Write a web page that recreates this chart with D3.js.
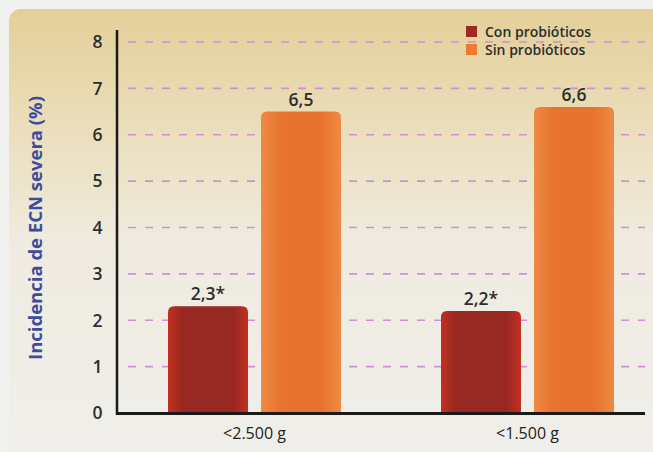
<!DOCTYPE html>
<html>
<head>
<meta charset="utf-8">
<script src="https://cdn.jsdelivr.net/npm/d3@7"></script>
<style>
  body { margin: 0; background: #f1f1ef; }
  svg { display: block; font-family: "Open Sans", sans-serif; }
</style>
</head>
<body>
<div id="chart"></div>
<script>
const width = 653;
const height = 452;

// data
const groups = ["<2.500 g", "<1.500 g"];
const series = ["Con probióticos", "Sin probióticos"];
const conValues = [2.3, 2.2];
const sinValues = [6.5, 6.6];
const valueLabels = [["2,3*", "6,5"], ["2,2*", "6,6"]];
const yTicks = [0, 1, 2, 3, 4, 5, 6, 7, 8];

const rows = groups.map((g, i) => ({
  group: g,
  bars: [
    { key: series[0], value: conValues[i], label: valueLabels[i][0] },
    { key: series[1], value: sinValues[i], label: valueLabels[i][1] },
  ],
}));

const svg = d3
  .select("#chart")
  .append("svg")
  .attr("width", width)
  .attr("height", height);

const defs = svg.append("defs");

// background panel gradient
const bg = defs.append("linearGradient").attr("id", "bg").attr("x1", 0).attr("y1", 0).attr("x2", 0).attr("y2", 1);
bg.append("stop").attr("offset", "0%").attr("stop-color", "#e3cf98");
bg.append("stop").attr("offset", "22%").attr("stop-color", "#eadcb6");
bg.append("stop").attr("offset", "50%").attr("stop-color", "#efebe0");
bg.append("stop").attr("offset", "100%").attr("stop-color", "#efefec");

const gCon = defs.append("linearGradient").attr("id", "gCon");
gCon.append("stop").attr("offset", "0%").attr("stop-color", "#c3301f");
gCon.append("stop").attr("offset", "18%").attr("stop-color", "#982822");
gCon.append("stop").attr("offset", "82%").attr("stop-color", "#982822");
gCon.append("stop").attr("offset", "100%").attr("stop-color", "#c3301f");

const gSin = defs.append("linearGradient").attr("id", "gSin");
gSin.append("stop").attr("offset", "0%").attr("stop-color", "#ee8a44");
gSin.append("stop").attr("offset", "25%").attr("stop-color", "#e8732f");
gSin.append("stop").attr("offset", "75%").attr("stop-color", "#e8732f");
gSin.append("stop").attr("offset", "100%").attr("stop-color", "#ee8a44");

const fills = { [series[0]]: "url(#gCon)", [series[1]]: "url(#gSin)" };
const legendColors = { [series[0]]: "#9c2a22", [series[1]]: "#ec7a33" };

svg
  .append("rect")
  .attr("x", 9)
  .attr("y", 9)
  .attr("width", 670)
  .attr("height", 470)
  .attr("rx", 12)
  .attr("fill", "url(#bg)");

const axisLeft = 117;
const axisRight = 645;

const y = d3.scaleLinear().domain([0, 8]).range([413, 42]);

const x0 = d3.scaleBand().domain(groups).range([118, 664]).padding(0);
const x1 = d3
  .scaleBand()
  .domain(series)
  .range([x0.bandwidth() / 2 - 86.5, x0.bandwidth() / 2 + 86.5])
  .paddingInner(0.14)
  .paddingOuter(0);

// dashed gridlines
svg
  .append("g")
  .selectAll("line")
  .data(yTicks.filter((d) => d > 0))
  .join("line")
  .attr("x1", 128)
  .attr("x2", axisRight)
  .attr("y1", (d) => y(d))
  .attr("y2", (d) => y(d))
  .attr("stroke", "#d08fd8")
  .attr("stroke-width", 1.6)
  .attr("stroke-dasharray", "8,9");

// bars
const groupSel = svg
  .append("g")
  .selectAll("g")
  .data(rows)
  .join("g")
  .attr("transform", (d) => `translate(${x0(d.group)},0)`);

groupSel
  .selectAll("path")
  .data((d) => d.bars)
  .join("path")
  .attr("d", (d) => {
    const bx = x1(d.key);
    const bw = x1.bandwidth();
    const top = y(d.value);
    const bottom = y(0);
    const r = 6;
    return `M${bx},${bottom} L${bx},${top + r} Q${bx},${top} ${bx + r},${top} L${bx + bw - r},${top} Q${bx + bw},${top} ${bx + bw},${top + r} L${bx + bw},${bottom} Z`;
  })
  .attr("fill", (d) => fills[d.key]);

groupSel
  .selectAll("text")
  .data((d) => d.bars)
  .join("text")
  .attr("x", (d) => x1(d.key) + x1.bandwidth() / 2)
  .attr("y", (d) => y(d.value) - 6)
  .attr("text-anchor", "middle")
  .attr("font-size", 17.5)
  .attr("font-weight", 600)
  .attr("fill", "#2d2d2d")
  .text((d) => d.label);

// axes lines
svg
  .append("line")
  .attr("x1", axisLeft)
  .attr("x2", axisLeft)
  .attr("y1", 30)
  .attr("y2", 415)
  .attr("stroke", "#1a1a1a")
  .attr("stroke-width", 2.5);

svg
  .append("line")
  .attr("x1", axisLeft)
  .attr("x2", axisRight)
  .attr("y1", 413.5)
  .attr("y2", 413.5)
  .attr("stroke", "#1a1a1a")
  .attr("stroke-width", 3);

// y tick labels
svg
  .append("g")
  .selectAll("text")
  .data(yTicks)
  .join("text")
  .attr("x", 97.5)
  .attr("y", (d) => y(d))
  .attr("dy", "0.36em")
  .attr("text-anchor", "middle")
  .attr("font-size", 17.5)
  .attr("font-weight", 600)
  .attr("fill", "#2d2d2d")
  .text((d) => d);

// x labels
svg
  .append("g")
  .selectAll("text")
  .data(groups)
  .join("text")
  .attr("x", (d) => x0(d) + x0.bandwidth() / 2)
  .attr("y", 439)
  .attr("text-anchor", "middle")
  .attr("font-size", 16)
  .attr("fill", "#222")
  .text((d) => d);

// y title
svg
  .append("text")
  .attr("transform", "translate(42,228) rotate(-90)")
  .attr("text-anchor", "middle")
  .attr("font-size", 18.5)
  .attr("font-weight", 700)
  .attr("fill", "#3b4d9c")
  .text("Incidencia de ECN severa (%)");

// legend
const legend = svg
  .append("g")
  .selectAll("g")
  .data(series)
  .join("g")
  .attr("transform", (d, i) => `translate(466,${26 + i * 18})`);

legend
  .append("rect")
  .attr("width", 11)
  .attr("height", 11)
  .attr("fill", (d) => legendColors[d]);

legend
  .append("text")
  .attr("x", 19)
  .attr("y", 11)
  .attr("font-size", 14)
  .attr("font-weight", 600)
  .attr("fill", "#2d2d2d")
  .text((d) => d);
</script>
</body>
</html>
